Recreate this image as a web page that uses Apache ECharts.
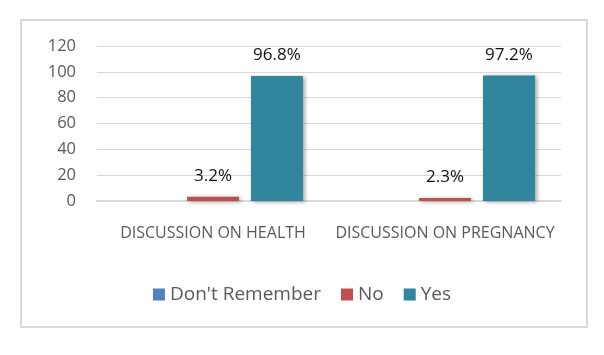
<!DOCTYPE html>
<html>
<head>
<meta charset="utf-8">
<script src="https://cdn.jsdelivr.net/npm/echarts@6/dist/echarts.min.js"></script>
<style>
  html, body { margin: 0; padding: 0; background: #fff; }
  #main { width: 604px; height: 355px; }
</style>
</head>
<body>
<div id="main"></div>
<script>
// data
const categories = ['DISCUSSION ON HEALTH', 'DISCUSSION ON PREGNANCY']
const dontRemember = [0, 0]
const no = [3.2, 2.3]
const yes = [96.8, 97.2]
const yTicks = [0, 20, 40, 60, 80, 100, 120]

const chart = echarts.init(document.getElementById('main'))

const font = '"Open Sans", "Liberation Sans", sans-serif'
const shadow = { shadowColor: 'rgba(0,0,0,0.35)', shadowBlur: 4, shadowOffsetX: 2, shadowOffsetY: 1 }

function barSeries(name, data, color, showLabel) {
    return {
        name: name,
        type: 'bar',
        data: data,
        barWidth: 52,
        barGap: '23%',
        itemStyle: Object.assign({ color: color }, shadow),
        label: {
            show: showLabel,
            position: 'top',
            distance: 12,
            formatter: '{c}%',
            color: '#111',
            fontSize: 17,
            fontFamily: font
        }
    }
}

const option = {
    animation: false,
    graphic: [{
        type: 'rect',
        shape: { x: 21, y: 20, width: 566, height: 307 },
        style: { fill: 'none', stroke: '#d9d9d9', lineWidth: 2 }
    }],
    grid: { left: 97, right: 43, top: 46, bottom: 154 },
    legend: {
        top: 280,
        left: 'center',
        itemWidth: 12,
        itemHeight: 12,
        itemGap: 20,
        icon: 'rect',
        textStyle: { fontSize: 19, color: '#595959', fontFamily: font },
        data: ["Don't Remember", 'No', 'Yes']
    },
    xAxis: {
        type: 'category',
        data: categories,
        axisLine: { lineStyle: { color: '#d9d9d9', width: 2 } },
        axisTick: { show: false },
        axisLabel: { interval: 0, margin: 24, fontSize: 16, color: '#595959', fontFamily: font }
    },
    yAxis: {
        type: 'value',
        min: yTicks[0],
        max: yTicks[yTicks.length - 1],
        interval: 20,
        axisLine: { show: false },
        axisTick: { show: false },
        splitLine: { lineStyle: { color: '#d9d9d9' } },
        axisLabel: { margin: 21, fontSize: 16.5, color: '#595959', fontFamily: font }
    },
    series: [
        barSeries("Don't Remember", dontRemember, '#4f81bd', false),
        barSeries('No', no, '#c0504d', true),
        barSeries('Yes', yes, '#31859c', true)
    ]
}
chart.setOption(option)
</script>
</body>
</html>
